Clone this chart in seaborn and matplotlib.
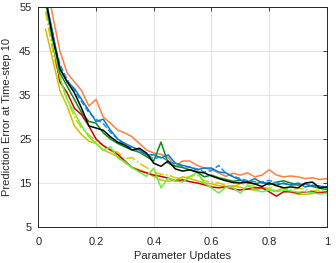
import numpy as np
import matplotlib
matplotlib.use("Agg")
import matplotlib.pyplot as plt
import pandas as pd
import seaborn as sns

# =========================
# DATA
# =========================
updates = [round(0.025 * k, 3) for k in range(1, 41)]

orange = [62, 53, 45, 40, 38, 36, 32.5, 34, 30, 28.6, 27, 26.4, 25.5, 24, 22.5, 21.8,
          21.5, 20.8, 18.8, 20, 20, 19, 18.4, 18, 17.3, 16.5, 17.2, 16.8, 17.3, 16.4,
          16.8, 18, 16.8, 16.4, 16.6, 16.4, 16, 16.2, 15.8, 16]
black = [57, 48, 41, 38, 35.5, 32, 28, 27.5, 27, 25.5, 24.3, 23.6, 22.5, 22.9, 21.8, 19.5,
         18.8, 20, 18.2, 17.7, 18, 17.5, 17.3, 16.6, 16, 15.5, 15.1, 15, 15.2, 14.8,
         14.2, 15, 14.4, 13.9, 14.1, 13.9, 15, 15.2, 13.9, 14.1]
blue = [57, 49, 41, 38, 36.5, 34, 31.5, 29, 29.5, 27, 25, 24, 23.2, 22.5, 21.4, 21.4,
        20.7, 21.4, 19.5, 19, 18.6, 18, 18.4, 18.4, 17.5, 17.3, 16.4, 15.7, 15.2, 16,
        15, 15, 14.5, 15, 14.5, 15, 14.1, 14.5, 14.3, 13.9]
blue_dash = [56, 48, 42, 38.5, 36, 33.5, 31, 29.5, 28.5, 26.5, 25, 23.5, 23, 22, 21.5, 20.5,
             21, 20, 19.3, 18.8, 18.6, 18.2, 17.5, 17.8, 19, 17.2, 16.5, 16, 15.5, 15.3,
             15.2, 15.6, 15, 14.8, 14.6, 14.5, 14.8, 14.2, 14.4, 14]
dark_green = [57, 49, 40, 37, 34, 31, 29, 28.6, 26.4, 25, 24, 23.2, 22.5, 22, 21, 20,
              24.3, 19.5, 18.8, 18.5, 18, 17.5, 16.4, 16.8, 16.2, 15.8, 15.4, 15.6, 15, 14.8,
              15.2, 14.6, 15.2, 15.5, 15, 14.5, 14.8, 14.2, 13.8, 13.5]
red = [56, 47, 38, 35.5, 32, 30.5, 28, 25, 23.5, 22.5, 21.5, 20, 18.5, 17.8, 17.3, 16.8,
       16.5, 16.1, 15.5, 15.7, 15.3, 15, 14.6, 14.1, 13.9, 14.1, 13.6, 13.4, 13.6, 13.9,
       13.9, 13, 12, 13, 13, 12.7, 13, 13, 12.7, 13]
yellow = [50, 43, 36, 32.5, 28, 26, 24.5, 24, 22.5, 21.8, 21, 19.6, 18.6, 18, 17.3, 16.5,
          15.7, 15.4, 15.6, 16.4, 16, 15.5, 15, 14.8, 14.4, 14.2, 14.4, 14, 13.6, 13.4,
          13.9, 13.6, 13.2, 13.9, 13, 12.4, 12.4, 12.6, 13, 12.8]
yellow_dashdot = [54, 45, 38, 34, 30, 27.5, 26, 24.5, 23.5, 22.5, 22, 20.5, 20.8, 19.5, 18.5, 17.5,
                  17, 16.8, 16.2, 16, 16.5, 16.8, 15.5, 15.2, 15, 14.5, 14.2, 14.8, 14.5, 14.2,
                  14, 13.8, 14.4, 14, 13.5, 13.8, 13.6, 13.2, 13.4, 13]
light_green = [56, 47, 39, 34, 31, 28, 25.5, 24, 22.5, 23.2, 20.7, 19.8, 18.5, 17.5, 16.5, 18.4,
               13.9, 16.1, 15.5, 15.2, 16.4, 17.5, 15, 13.9, 12.7, 14.1, 13.9, 12.7, 14.5, 13.4,
               13, 13.4, 13, 13.4, 13.2, 12.9, 13.1, 12.8, 12.5, 12.7]

series = {
    'orange': (orange, '#FF7F3F', '-'),
    'yellow_dashdot': (yellow_dashdot, '#D4CC00', '-.'),
    'yellow': (yellow, '#CCC000', '-'),
    'red': (red, '#D40000', '-'),
    'light_green': (light_green, '#66F044', '-'),
    'dark_green': (dark_green, '#108A10', '-'),
    'blue_dash': (blue_dash, '#1E90E0', '--'),
    'blue': (blue, '#0A78C8', '-'),
    'black': (black, '#000000', '-'),
}

# =========================
# PLOTTING
# =========================
sns.set_theme('paper')
sns.set_style('white')
plt.rcParams['font.family'] = ['Liberation Sans', 'DejaVu Sans']
plt.rcParams['font.size'] = 8

fig = plt.figure(figsize=(3.36, 2.63), dpi=100)
ax = fig.add_axes([0.114, 0.137, 0.859, 0.836])

for name, (vals, color, ls) in series.items():
    sns.lineplot(x=updates, y=vals, color=color, linestyle=ls, linewidth=1.1, ax=ax)

ax.set_xlim(0, 1)
ax.set_ylim(5, 55)
ax.set_xticks([0, 0.2, 0.4, 0.6, 0.8, 1])
ax.set_xticklabels(['0', '0.2', '0.4', '0.6', '0.8', '1'])
ax.set_yticks([5, 15, 25, 35, 45, 55])
ax.grid(True, color='#E3E3E3', linewidth=0.7)
ax.set_axisbelow(True)
for sp in ax.spines.values():
    sp.set_color('#262626')
    sp.set_linewidth(0.7)
ax.tick_params(direction='in', length=3, width=0.6, top=True, right=True,
               labelsize=8, colors='#262626')
ax.tick_params(axis='x', pad=7)
ax.tick_params(axis='y', pad=5)
ax.set_xlabel('Parameter Updates', fontsize=8, color='#262626', labelpad=3)
ax.set_ylabel('Prediction Error at Time-step 10', fontsize=8, color='#262626', labelpad=5)

fig.savefig('out.png', dpi=100)
